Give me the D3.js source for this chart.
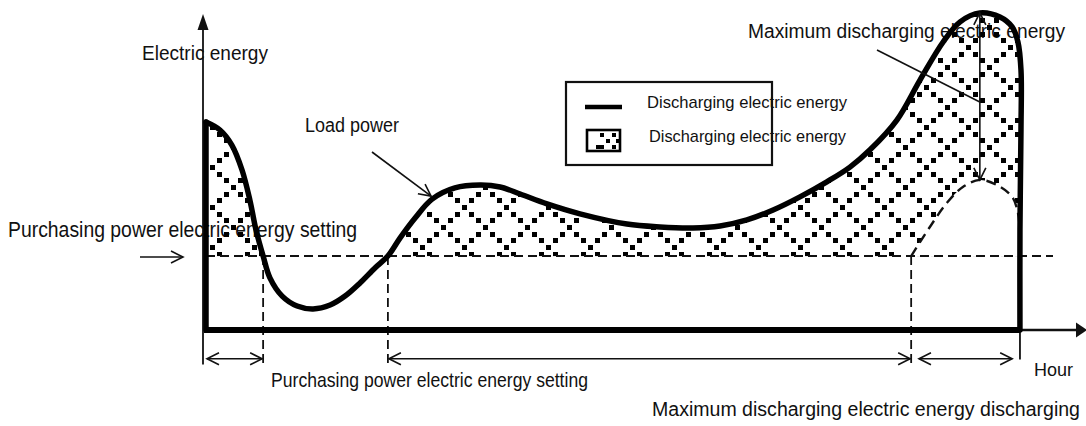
<!DOCTYPE html>
<html>
<head>
<meta charset="utf-8">
<script src="https://cdn.jsdelivr.net/npm/d3@7"></script>
<style>
  html, body { margin: 0; padding: 0; background: #fff; }
  svg { display: block; }
  text { font-family: "Liberation Sans", Arial, sans-serif; fill: #111; }
</style>
</head>
<body>
<div id="chart"></div>
<script>
// Load power over one day (hour, energy units)
const loadHours  = [0, 0.41, 0.76, 1.06, 1.29, 1.47, 1.68, 1.88, 2.24, 2.68, 3.15, 3.65, 4.09, 4.53, 4.97, 5.35,
                    5.71, 6.15, 6.65, 7.32, 8.06, 8.65, 9.24, 10.03, 11.0, 12.38, 13.35, 14.32, 15.12, 15.91, 16.68,
                    17.47, 18.26, 18.94, 19.53, 20.32, 21.0, 21.68, 22.18, 22.76, 23.35, 23.71, 23.88, 23.97, 23.97, 23.94, 23.94];
const loadEnergy = [65.0, 62.5, 57.8, 50.0, 40.6, 31.3, 23.1, 16.3, 10.6, 7.5, 6.6, 7.8, 10.6, 14.7, 19.4, 23.1,
                    28.8, 35.0, 40.9, 44.4, 45.3, 44.7, 42.5, 39.4, 36.3, 33.1, 32.2, 31.9, 32.5, 34.4, 37.5,
                    41.6, 46.3, 50.9, 56.3, 65.6, 78.1, 90.0, 96.3, 99.1, 97.8, 94.7, 90.0, 81.3, 62.5, 31.3, 0];

// Load power after the maximum discharge is taken off the evening peak
const shavedHours  = [20.74, 21.29, 21.79, 22.26, 22.76, 23.26, 23.71, 23.88, 23.94, 23.97];
const shavedEnergy = [23.1, 32.2, 39.7, 44.7, 46.9, 45.3, 41.6, 36.6, 30.3, 23.1];

// Purchasing power setting and the hours where the load crosses it
const purchaseSetting = 23.1;
const crossingHours = [1.68, 5.35, 20.74];
const dayEnd = 23.94;

// Labels
const yAxisLabel = "Electric energy";
const xAxisLabel = "Hour";
const loadLabel = "Load power";
const settingLabel = "Purchasing power electric energy setting";
const maxDischargeLabel = "Maximum discharging electric energy";
const maxDischargeSpanLabel = "Maximum discharging electric energy discharging";
const legendLabels = ["Discharging electric energy", "Discharging electric energy"];

const W = 1086, H = 426;
const x = d3.scaleLinear().domain([0, 24]).range([206, 1022]);
const y = d3.scaleLinear().domain([0, 100]).range([330, 10]);

const svg = d3.select("#chart").append("svg")
  .attr("width", W).attr("height", H).attr("viewBox", `0 0 ${W} ${H}`);
const defs = svg.append("defs");

// Open V arrowhead for annotation arrows
defs.append("marker")
  .attr("id", "vhead").attr("viewBox", "-14 -8 16 16")
  .attr("refX", 0).attr("refY", 0)
  .attr("markerWidth", 16).attr("markerHeight", 16)
  .attr("markerUnits", "userSpaceOnUse")
  .attr("orient", "auto-start-reverse")
  .append("path").attr("d", "M-12,-6 L0,0 L-12,6")
  .attr("fill", "none").attr("stroke", "#111").attr("stroke-width", 1.6);

// Lattice of small squares along crossing diagonals (pixel-aligned)
const tileW = 42, tileH = 40, sq = 5, steps = 6;
const lattice = defs.append("pattern")
  .attr("id", "lattice").attr("patternUnits", "userSpaceOnUse")
  .attr("x", 2).attr("y", 7).attr("width", tileW).attr("height", tileH);
const dots = [];
for (let k = 0; k < steps; k++) {
  const dx = Math.round(tileW * k / steps), dy = Math.round(tileH * k / steps);
  dots.push([dx, dy]);
  dots.push([tileW - dx, dy]);
}
const wrapped = [];
dots.forEach(([cx, cy]) => {
  [-tileW, 0, tileW].forEach(dx => [-tileH, 0, tileH].forEach(dy => wrapped.push([cx + dx, cy + dy])));
});
lattice.selectAll("rect").data(wrapped).join("rect")
  .attr("x", d => d[0] - 2).attr("y", d => d[1] - 2)
  .attr("width", sq).attr("height", sq).attr("fill", "#000");

const loadPts = loadHours.map((h, i) => [x(h), y(loadEnergy[i])]);
const shavedPts = shavedHours.map((h, i) => [x(h), y(shavedEnergy[i])]);
const curve = d3.line().curve(d3.curveCatmullRom.alpha(0.5));

// Region above the purchasing setting and above the shaved peak
const mask = defs.append("mask").attr("id", "dischargeMask")
  .attr("maskUnits", "userSpaceOnUse").attr("x", 0).attr("y", 0).attr("width", W).attr("height", H);
mask.append("path").attr("d", curve(loadPts) + `L${x(0)},${y(0)}Z`).attr("fill", "#fff");
mask.append("rect").attr("x", 0).attr("y", y(purchaseSetting)).attr("width", W).attr("height", H).attr("fill", "#000");
mask.append("path").attr("d", curve(shavedPts) + "Z").attr("fill", "#000");

// Text labels sit under the drawing
function label(txt, px, py, size, len) {
  const t = svg.append("text").attr("x", px).attr("y", py).attr("font-size", size).text(txt);
  if (len) t.attr("textLength", len).attr("lengthAdjust", "spacingAndGlyphs");
  return t;
}
label(yAxisLabel, 142, 60, 20, 126);
label(loadLabel, 305, 132, 19.5, 94);
label(settingLabel, 8, 237, 21.5, 349);
label(settingLabel, 271, 387, 21, 317);
label(xAxisLabel, 1034, 376, 18, 39);
label(maxDischargeLabel, 748, 38, 19.5, 317);
label(maxDischargeSpanLabel, 652, 416, 19.5, 428);

// Hatched discharging area
svg.append("rect").attr("x", 0).attr("y", 0).attr("width", W).attr("height", H)
  .attr("fill", "url(#lattice)").attr("mask", "url(#dischargeMask)");

// Axes
const axisY = x(0) - 3;
svg.append("line").attr("x1", axisY).attr("x2", axisY).attr("y1", 28).attr("y2", y(-10.8))
  .attr("stroke", "#111").attr("stroke-width", 1.8);
svg.append("path").attr("d", `M${axisY},14 L${axisY - 5.5},30 L${axisY + 5.5},30 Z`).attr("fill", "#111");
svg.append("line").attr("x1", x(dayEnd)).attr("x2", 1076).attr("y1", y(0)).attr("y2", y(0))
  .attr("stroke", "#111").attr("stroke-width", 2.5);
svg.append("path").attr("d", `M1087,${y(0)} L1076,${y(0) - 7.5} L1076,${y(0) + 7.5} Z`).attr("fill", "#111");

// Purchasing power setting (dashed)
svg.append("line").attr("x1", x(0)).attr("x2", 1053)
  .attr("y1", y(purchaseSetting)).attr("y2", y(purchaseSetting))
  .attr("stroke", "#111").attr("stroke-width", 2).attr("stroke-dasharray", "9,5");
svg.append("line").attr("x1", 140).attr("x2", 183)
  .attr("y1", y(purchaseSetting) + 1).attr("y2", y(purchaseSetting) + 1)
  .attr("stroke", "#111").attr("stroke-width", 1.5).attr("marker-end", "url(#vhead)");

// Crossing guides
svg.selectAll("line.guide").data(crossingHours).join("line").attr("class", "guide")
  .attr("x1", d => x(d)).attr("x2", d => x(d))
  .attr("y1", y(purchaseSetting)).attr("y2", y(-10.5))
  .attr("stroke", "#111").attr("stroke-width", 1.8).attr("stroke-dasharray", "9,5");
svg.append("line").attr("x1", x(dayEnd)).attr("x2", x(dayEnd)).attr("y1", y(0)).attr("y2", y(-9.2))
  .attr("stroke", "#111").attr("stroke-width", 1.8);

// Shaved peak (dashed)
svg.append("path").attr("d", curve(shavedPts.slice(0, -1)))
  .attr("fill", "none").attr("stroke", "#111").attr("stroke-width", 2.4).attr("stroke-dasharray", "10,6");

// Load power curve (thick)
svg.append("path").attr("d", curve(loadPts))
  .attr("fill", "none").attr("stroke", "#000").attr("stroke-width", 5.5)
  .attr("stroke-linejoin", "round").attr("stroke-linecap", "round");
svg.append("line").attr("x1", x(0)).attr("x2", x(0)).attr("y1", y(0)).attr("y2", y(loadEnergy[0]))
  .attr("stroke", "#000").attr("stroke-width", 5.5).attr("stroke-linecap", "round");
svg.append("line").attr("x1", x(0) - 2).attr("x2", x(dayEnd)).attr("y1", y(0)).attr("y2", y(0))
  .attr("stroke", "#000").attr("stroke-width", 6);

// Duration spans below the axis
const spanY = y(-9);
const spans = [[0, crossingHours[0]], [crossingHours[1], crossingHours[2]], [crossingHours[2] + 0.2, dayEnd - 0.2]];
svg.selectAll("line.span").data(spans).join("line").attr("class", "span")
  .attr("x1", d => x(d[0]) + 1).attr("x2", d => x(d[1]) - 1)
  .attr("y1", spanY).attr("y2", spanY)
  .attr("stroke", "#111").attr("stroke-width", 1.6)
  .attr("marker-start", "url(#vhead)").attr("marker-end", "url(#vhead)");

// Load power pointer
svg.append("line").attr("x1", 372).attr("y1", 152).attr("x2", x(6.65) - 1).attr("y2", y(40.9) - 3)
  .attr("stroke", "#111").attr("stroke-width", 1.6).attr("marker-end", "url(#vhead)");

// Maximum discharge: peak to shaved peak
svg.append("line").attr("x1", x(22.76)).attr("x2", x(22.76))
  .attr("y1", y(99.1)).attr("y2", y(46.9))
  .attr("stroke", "#111").attr("stroke-width", 1.6)
  .attr("marker-start", "url(#vhead)").attr("marker-end", "url(#vhead)");
svg.append("line").attr("x1", 877).attr("y1", 50).attr("x2", x(22.76)).attr("y2", 102)
  .attr("stroke", "#111").attr("stroke-width", 1.6);

// Legend
const lg = svg.append("g");
lg.append("rect").attr("x", 566).attr("y", 82).attr("width", 206).attr("height", 83)
  .attr("fill", "none").attr("stroke", "#111").attr("stroke-width", 2.2);
lg.append("line").attr("x1", 585).attr("x2", 622).attr("y1", 107).attr("y2", 107)
  .attr("stroke", "#000").attr("stroke-width", 4.5);
lg.append("rect").attr("x", 587).attr("y", 130).attr("width", 33).attr("height", 21)
  .attr("fill", "#fff").attr("stroke", "#000").attr("stroke-width", 2.6);
// Checker marks inside the swatch
const chk = [[600, 133], [612, 133], [606, 139], [612, 145], [600, 145], [596, 145], [616, 139]];
lg.selectAll("rect.chk").data(chk).join("rect").attr("class", "chk")
  .attr("x", d => d[0]).attr("y", d => d[1]).attr("width", 4).attr("height", 4).attr("fill", "#000");
label(legendLabels[0], 647, 108, 17, 200);
label(legendLabels[1], 649, 142, 17, 197);
</script>
</body>
</html>
